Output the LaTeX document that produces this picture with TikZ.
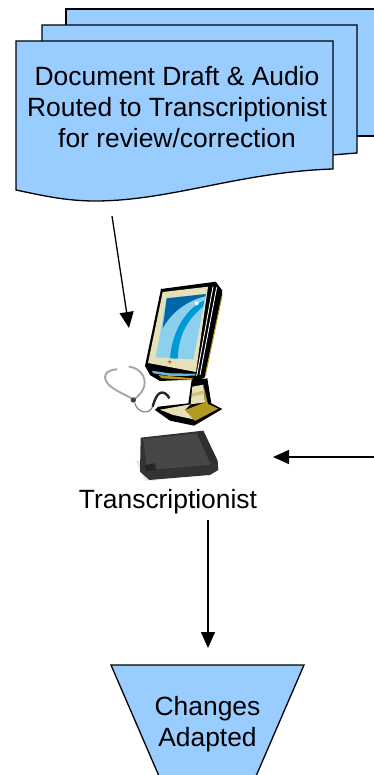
\documentclass[tikz,border=0pt]{standalone}
\usepackage{fontspec}
\setmainfont{Liberation Sans}
\usetikzlibrary{arrows.meta}
\definecolor{docblue}{HTML}{99CCFF}
\definecolor{screenblue}{HTML}{0099D6}
\definecolor{darkscreen}{HTML}{0066AA}
\definecolor{lightscreen}{HTML}{8CD0EE}
\definecolor{cream}{HTML}{E6DFB8}
\definecolor{olive}{HTML}{B39A1E}
\definecolor{stripblue}{HTML}{6FB4DC}
\tikzset{
  sheet/.style={draw=black,line width=1.3pt,fill=docblue,line join=miter},
  conn/.style={draw=black,line width=1.3pt,-{Triangle[length=16pt,width=14pt]}},
  lab/.style={font=\fontsize{26.4}{31}\selectfont,align=center,text=black,inner sep=0pt},
  zoomA/.style={shift={(145,275)},x=0.3333pt,y=-0.3333pt},
  zoomB/.style={shift={(150,360)},x=0.3333pt,y=-0.3333pt},
  zoomC/.style={shift={(100,360)},x=0.3333pt,y=-0.3333pt},
  zoomD/.style={shift={(90,270)},x=0.3333pt,y=-0.3333pt},
}
\begin{document}
\begin{tikzpicture}[x=1pt,y=-1pt]
\useasboundingbox (0,0) rectangle (374,775);
\clip (0,0) rectangle (374,775);
\fill[white] (0,0) rectangle (374,775);
% stacked sheets
\path[sheet] (66,9) -- (380,9) -- (380,136) -- (66,136) -- cycle;
\path[sheet] (42,25) -- (357,25) -- (357,153) .. controls (300,157) and (200,170) .. (42,170) -- cycle;
\path[sheet] (16,41) -- (333,41) -- (333,169) .. controls (240,172) and (170,201) .. (95,201) .. controls (65,201) and (40,195) .. (16,190) -- cycle;
\node[lab] (doc) at (177,107) {Document Draft \& Audio\\Routed to Transcriptionist\\for review/correction};
% trapezoid
\path[draw=black,line width=1.3pt,fill=docblue] (111,665) -- (304,665) -- (250,790) -- (165,790) -- cycle;
\node[lab] (changes) at (207.5,724.5) {Changes\\Adapted};
\node[lab] (trans) at (168,502) {Transcriptionist};
% connector ends
\coordinate (docend) at (112,216);
\coordinate (iconin) at (129,328);
\coordinate (rightin) at (374,457);
\coordinate (iconright) at (273,457);
\coordinate (transout) at (208,520);
\coordinate (changesin) at (208,648);
\draw[conn] (docend) -- (iconin);
\draw[conn] (rightin) -- (iconright);
\draw[conn] (transout) -- (changesin);
% stethoscope
\begin{scope}[zoomC]
 \draw[black!35,line width=1.9pt,line cap=round] (50,28) .. controls (25,30) and (10,40) .. (17,60) .. controls (25,85) and (70,100) .. (100,118);
 \draw[black!35,line width=1.9pt,line cap=round] (88,20) .. controls (125,25) and (145,60) .. (128,90) .. controls (120,105) and (110,112) .. (102,118);
 \fill[black!75] (100,120) circle (8);
 \draw[black!55,line width=1pt] (104,128) .. controls (112,160) and (148,165) .. (158,140);
 \draw[black!85,line width=2.4pt] (158,140) .. controls (165,115) and (175,90) .. (195,100) .. controls (200,103) and (205,108) .. (208,115);
\end{scope}
% stand and base
\begin{scope}[zoomB]
 \fill[black] (125,60) -- (115,130) -- (25,140) -- (15,150) -- (60,182) -- (132,197) -- (217,147) -- (184,130) -- (172,55) -- cycle;
 \fill[cream] (127,80) -- (160,74) -- (165,127) -- (122,133) -- cycle;
 \fill[olive!45!cream] (126,100) -- (161,92) -- (162,102) -- (125,110) -- cycle;
 \fill[olive] (160,74) -- (174,132) -- (205,146) -- (135,183) -- (105,150) -- (165,127) -- cycle;
 \fill[cream] (30,149) -- (122,133) -- (105,150) -- (130,178) -- (70,165) -- cycle;
\end{scope}
% monitor
\fill[black] (161,289) -- (215.7,281.7) -- (222,290) -- (222,296) -- (205,377) -- (200,380) -- (183,380) -- (160,381) -- (150,375) -- (145,366) -- cycle;
\fill[cream] (162.7,292) -- (208,286.7) -- (196,372) -- (148,363) -- cycle;
\fill[lightscreen] (166.7,298) -- (206,294) -- (193.3,359.3) -- (155.7,357.3) -- cycle;
\begin{scope}[zoomA]
 \fill[darkscreen] (65,70) -- (183,57) -- (181,64) .. controls (130,75) and (80,110) .. (53,160) -- cycle;
 \fill[screenblue] (75,250) .. controls (80,180) and (115,105) .. (178,76) -- (174,95) .. controls (130,130) and (100,180) .. (98,251) -- cycle;
 \fill[white] (155,85) circle (6);
 \draw[white,line width=.9pt] (204,35) -- (155,303);
 \draw[white,line width=.9pt] (215,37) -- (165,300);
 \draw[olive,line width=1pt] (231,62) -- (182,296);
\end{scope}
\begin{scope}[zoomB]
 \node[text=red,font=\fontsize{9}{9}\selectfont,inner sep=0pt] (star) at (60,7) {$\star$};
 \fill[stripblue] (5,32) -- (60,40) -- (137,41) -- (135,47) -- (60,48) -- (10,40) -- cycle;
 \fill[olive] (25,45) -- (130,55) -- (125,60) -- (35,55) -- cycle;
\end{scope}
% foot pedal
\begin{scope}[zoomD]
 \fill[black!10] (135,570) -- (150,600) -- (165,632) -- (200,632) -- (160,580) -- cycle;
 \fill[black!80] (152,503) -- (340,482) -- (383,572) -- (385,600) -- (360,615) -- (178,630) -- (150,605) -- cycle;
 \fill[black!72] (160,508) -- (325,490) -- (368,575) -- (355,585) -- (198,598) -- (170,590) -- cycle;
 \fill[black!85] (165,585) -- (195,580) -- (198,600) -- (168,604) -- cycle;
 \fill[black!82] (320,488) -- (340,484) -- (380,570) -- (360,578) -- cycle;
\end{scope}
\end{tikzpicture}
\end{document}
